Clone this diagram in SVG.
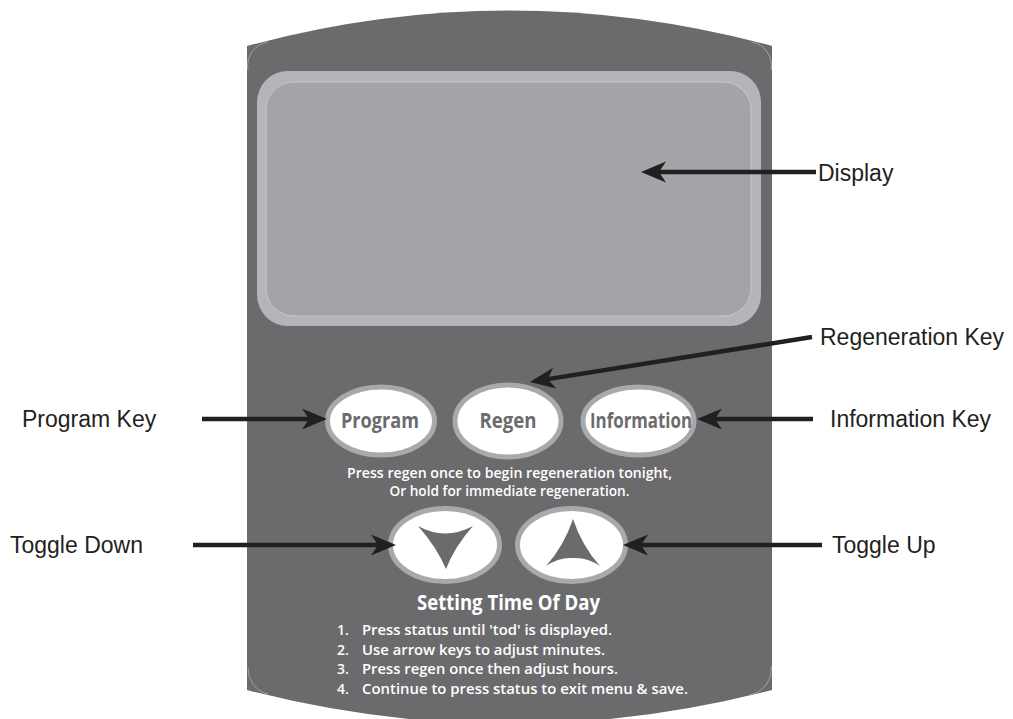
<svg xmlns="http://www.w3.org/2000/svg" width="1013" height="719" viewBox="0 0 1013 719">
<style>
.lbl{font-family:"Liberation Sans",Arial,sans-serif;font-size:23px;fill:#231f20}
.key{fill:#ffffff;stroke:#a8a9ab;stroke-width:5}
.keytxt{font-family:"Open Sans","Noto Sans",sans-serif;font-weight:700;font-size:22px;fill:#6b6b6d;text-anchor:middle}
.wt{font-family:"Open Sans","Noto Sans",sans-serif;fill:#ffffff;font-weight:600}
.conn{stroke:#231f20;stroke-width:4.5;fill:none;marker-end:url(#ah)}
.corner{fill:none;stroke:#a2a2a5;stroke-width:1}
.chev{fill:#6b6b6d}
</style>
<defs>
<marker id="ah" markerUnits="userSpaceOnUse" viewBox="-11 -11 27 22" markerWidth="27" markerHeight="22" refX="0" refY="0" orient="auto">
<path d="M15,0 L-10,-10.5 L-3,0 L-10,10.5 Z" fill="#231f20"/>
</marker>
</defs>
<rect width="1013" height="719" fill="#ffffff"/>
<g id="panel">
<path d="M247,46 Q509.5,-25 772,46 L772,690 Q509.5,758 247,690 Z" fill="#6b6b6d"/>
<path class="corner" d="M248,70 A24,24 0 0 1 268,42"/>
<path class="corner" d="M752,42 A24,24 0 0 1 771,70"/>
<path class="corner" d="M248,668 A26,26 0 0 0 268,694"/>
<path class="corner" d="M771,666 A26,26 0 0 1 749,695"/>
</g>
<g id="display">
<rect x="257" y="71" width="504" height="255" rx="31" fill="#b4b5b8"/>
<rect x="266" y="82" width="485" height="234" rx="28" fill="#a3a4a7" stroke="#c6c7c9" stroke-width="1"/>
</g>
<g id="program-key">
<ellipse class="key" cx="381" cy="421" rx="53.5" ry="34"/>
<text class="keytxt" x="380" y="428" textLength="78" lengthAdjust="spacingAndGlyphs">Program</text>
</g>
<g id="regen-key">
<ellipse class="key" cx="508" cy="421" rx="53" ry="36"/>
<text class="keytxt" x="508" y="428" textLength="57" lengthAdjust="spacingAndGlyphs">Regen</text>
</g>
<g id="information-key">
<ellipse class="key" cx="638.5" cy="421" rx="55.5" ry="34"/>
<text class="keytxt" x="641" y="428" textLength="102" lengthAdjust="spacingAndGlyphs">Information</text>
</g>
<g id="regen-note">
<text class="wt" x="509.5" y="478" font-size="13.5" text-anchor="middle" textLength="325" lengthAdjust="spacingAndGlyphs">Press regen once to begin regeneration tonight,</text>
<text class="wt" x="509.5" y="496" font-size="13.5" text-anchor="middle" textLength="240" lengthAdjust="spacingAndGlyphs">Or hold for immediate regeneration.</text>
</g>
<g id="toggle-down">
<ellipse class="key" cx="445" cy="545" rx="54.5" ry="36.5"/>
<path class="chev" d="M418,526 Q445,541 473,526 Q455,546 446,569 Q436,546 418,526 Z"/>
</g>
<g id="toggle-up">
<ellipse class="key" cx="571.5" cy="545" rx="54" ry="36.5"/>
<path class="chev" d="M573,519 Q582,546 600,566 Q587,557 573,558 Q559,557 546,566 Q564,546 573,519 Z"/>
</g>
<g id="instructions">
<text class="wt" x="508.5" y="610" font-size="21" text-anchor="middle" textLength="183" lengthAdjust="spacingAndGlyphs" style="font-weight:700">Setting Time Of Day</text>
<text class="wt" x="337" y="635" font-size="14">1.</text>
<text class="wt" x="362" y="635" font-size="14" textLength="250" lengthAdjust="spacingAndGlyphs">Press status until 'tod' is displayed.</text>
<text class="wt" x="337" y="655" font-size="14">2.</text>
<text class="wt" x="362" y="655" font-size="14" textLength="243" lengthAdjust="spacingAndGlyphs">Use arrow keys to adjust minutes.</text>
<text class="wt" x="337" y="674" font-size="14">3.</text>
<text class="wt" x="362" y="674" font-size="14" textLength="256" lengthAdjust="spacingAndGlyphs">Press regen once then adjust hours.</text>
<text class="wt" x="337" y="694" font-size="14">4.</text>
<text class="wt" x="362" y="694" font-size="14" textLength="326" lengthAdjust="spacingAndGlyphs">Continue to press status to exit menu &amp; save.</text>
</g>
<g id="labels">
<text id="lbl-display" class="lbl" x="818" y="181">Display</text>
<text id="lbl-regen" class="lbl" x="820" y="345">Regeneration Key</text>
<text id="lbl-program" class="lbl" x="22" y="427">Program Key</text>
<text id="lbl-info" class="lbl" x="830" y="427">Information Key</text>
<text id="lbl-down" class="lbl" x="10" y="553">Toggle Down</text>
<text id="lbl-up" class="lbl" x="832" y="553">Toggle Up</text>
</g>
<g id="connectors">
<line class="conn" x1="816" y1="172" x2="656" y2="172"/>
<line class="conn" x1="812" y1="337" x2="544.8" y2="379.6"/>
<line class="conn" x1="202" y1="419" x2="312" y2="419"/>
<line class="conn" x1="813" y1="419" x2="712" y2="419"/>
<line class="conn" x1="193" y1="545" x2="381" y2="545"/>
<line class="conn" x1="822" y1="545" x2="638" y2="545"/>
</g>
</svg>
